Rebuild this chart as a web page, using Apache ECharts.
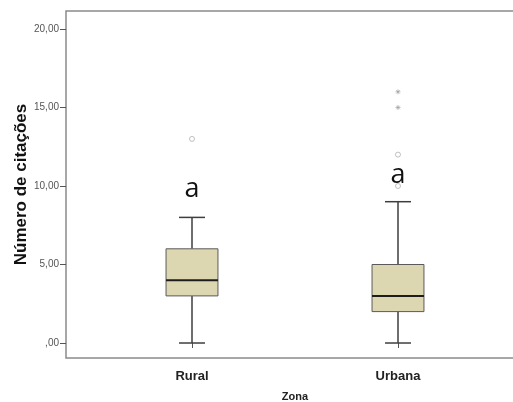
<!DOCTYPE html>
<html>
<head>
<meta charset="utf-8">
<script src="https://cdn.jsdelivr.net/npm/echarts@6/dist/echarts.min.js"></script>
<style>html,body{margin:0;padding:0;background:#fff}#c{width:513px;height:402px}</style>
</head>
<body>
<div id="c"></div>
<script>
const categories = ['Rural', 'Urbana'];
const minVals = [0, 0];
const q1Vals = [3, 2];
const medianVals = [4, 3];
const q3Vals = [6, 5];
const maxVals = [8, 9];
const circleOutliers = [[0, 13], [1, 10], [1, 12]];
const starOutliers = [[1, 15], [1, 16]];
const letterLabels = ['a', 'a'];
const letterValues = [9.8, 10.7];
const yTickValues = [0, 5, 10, 15, 20];

const boxData = categories.map((c, i) => [i, minVals[i], q1Vals[i], medianVals[i], q3Vals[i], maxVals[i]]);
const letterData = letterLabels.map((l, i) => [i, letterValues[i]]);

function fmtY(v) {
  return v === 0 ? ',00' : v.toFixed(2).replace('.', ',');
}

function renderBox(params, api) {
  const idx = api.value(0);
  const c = v => api.coord([idx, v]);
  const pMin = c(api.value(1)), pQ1 = c(api.value(2)), pMed = c(api.value(3)),
        pQ3 = c(api.value(4)), pMax = c(api.value(5));
  const band = api.size([1, 0])[0];
  const bw = band * 0.252, cw = bw / 2;
  const x = pMed[0];
  const ws = { stroke: '#3e3e3e', lineWidth: 1.5 };
  return {
    type: 'group',
    children: [
      { type: 'line', shape: { x1: x, y1: pMax[1], x2: x, y2: pQ3[1] }, style: ws },
      { type: 'line', shape: { x1: x, y1: pQ1[1], x2: x, y2: pMin[1] }, style: ws },
      { type: 'line', shape: { x1: x - cw / 2, y1: pMax[1], x2: x + cw / 2, y2: pMax[1] }, style: ws },
      { type: 'line', shape: { x1: x - cw / 2, y1: pMin[1], x2: x + cw / 2, y2: pMin[1] }, style: ws },
      { type: 'rect', shape: { x: x - bw / 2, y: pQ3[1], width: bw, height: pQ1[1] - pQ3[1] },
        style: { fill: '#dcd7b0', stroke: '#5a5a5a', lineWidth: 1 } },
      { type: 'line', shape: { x1: x - bw / 2, y1: pMed[1], x2: x + bw / 2, y2: pMed[1] },
        style: { stroke: '#1c1c1c', lineWidth: 2 } }
    ]
  };
}

function renderLetter(params, api) {
  const p = api.coord([api.value(0), api.value(1)]);
  return {
    type: 'text', x: p[0], y: p[1],
    style: { text: letterLabels[params.dataIndex], fontSize: 27, fontFamily: 'Open Sans',
             fill: '#111', align: 'center', verticalAlign: 'middle' }
  };
}

const yMin = -0.955, yMax = 21.146;
const chart = echarts.init(document.getElementById('c'));
chart.setOption({
  animation: false,
  backgroundColor: '#fff',
  grid: [
    { left: 66, right: -12, top: 11, bottom: 44, show: true, borderColor: '#8a8a8a', borderWidth: 1.5,
      backgroundColor: '#fff', outerBoundsMode: 'none', containLabel: false },
    { left: 89, right: 12, top: 11, bottom: 44, outerBoundsMode: 'none', containLabel: false }
  ],
  xAxis: [
    { gridIndex: 0, type: 'value', min: 0, max: 1, show: false },
    { gridIndex: 1, type: 'category', data: categories,
      axisLine: { show: false },
      axisTick: { show: true, alignWithLabel: true, length: 5, lineStyle: { color: '#555' } },
      axisLabel: { color: '#222', fontSize: 13, fontWeight: 'bold', fontFamily: 'Liberation Sans', margin: 12 },
      name: 'Zona', nameLocation: 'middle', nameGap: 33, nameMoveOverlap: false,
      nameTextStyle: { color: '#222', fontSize: 11, fontWeight: 'bold', fontFamily: 'Liberation Sans' } }
  ],
  yAxis: [
    { gridIndex: 0, type: 'value', min: yMin, max: yMax,
      axisLine: { show: false },
      splitLine: { show: false },
      axisTick: { show: true, length: 6, customValues: yTickValues, lineStyle: { color: '#555' } },
      axisLabel: { customValues: yTickValues, formatter: fmtY, color: '#555', fontSize: 10,
                   fontFamily: 'Liberation Sans', margin: 7 },
      name: 'Número de citações', nameLocation: 'middle', nameGap: 36, nameMoveOverlap: false,
      nameTextStyle: { color: '#111', fontSize: 17, fontWeight: 'bold', fontFamily: 'Liberation Sans' } },
    { gridIndex: 1, type: 'value', min: yMin, max: yMax, show: false, splitLine: { show: false } }
  ],
  series: [
    { type: 'custom', xAxisIndex: 1, yAxisIndex: 1, data: boxData, renderItem: renderBox },
    { type: 'scatter', xAxisIndex: 1, yAxisIndex: 1, data: circleOutliers, symbol: 'circle', symbolSize: 5,
      itemStyle: { color: '#fff', borderColor: '#b0b0b0', borderWidth: 1 } },
    { type: 'scatter', xAxisIndex: 1, yAxisIndex: 1, data: starOutliers,
      symbol: 'path://M5,0L5,10M0,5L10,5M1.5,1.5L8.5,8.5M8.5,1.5L1.5,8.5', symbolSize: 5,
      itemStyle: { color: 'none', borderColor: '#999', borderWidth: 0.8 } },
    { type: 'custom', xAxisIndex: 1, yAxisIndex: 1, data: letterData, renderItem: renderLetter }
  ]
});
</script>
</body>
</html>
